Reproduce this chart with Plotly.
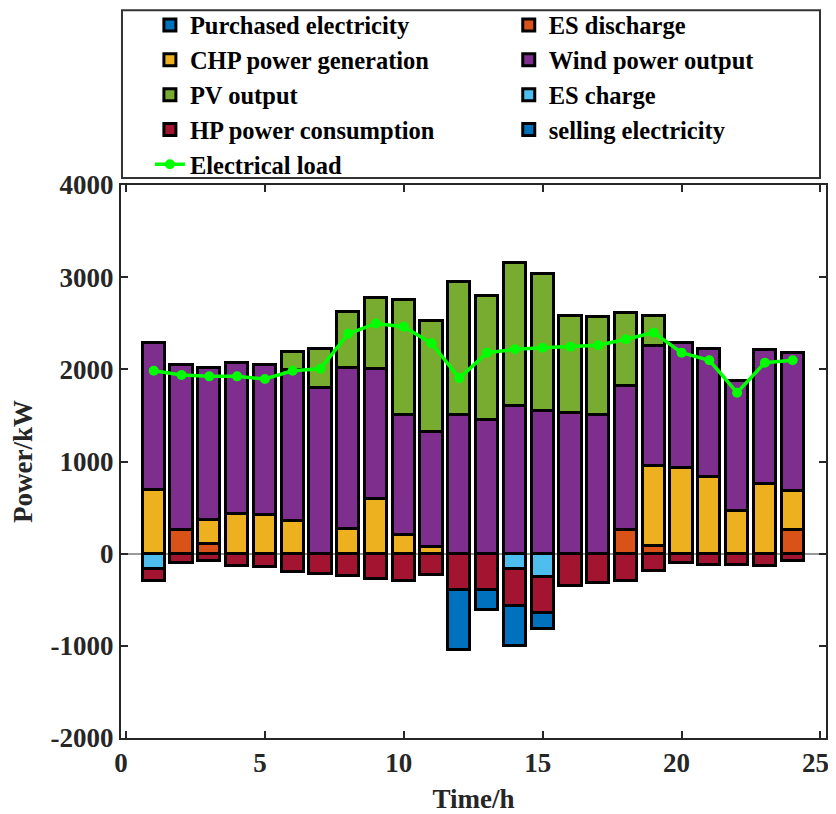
import plotly.graph_objects as go

hours = list(range(1, 25))
purchased = [0] * 24
es_discharge = [0, 253, 108, 0, 0, 0, 0, 0, 0, 0, 0, 0, 0, 0, 0, 0, 0, 254, 87, 0, 0, 0, 0, 254]
chp = [686, 0, 260, 430, 422, 357, 0, 267, 596, 206, 69, 0, 0, 0, 0, 0, 0, 0, 862, 931, 833, 460, 757, 424]
wind = [1596, 1797, 1646, 1635, 1625, 1636, 1794, 1747, 1404, 1299, 1256, 1503, 1446, 1601, 1547, 1522,
        1504, 1565, 1305, 1359, 1392, 1413, 1453, 1503]
pv = [0, 0, 0, 0, 0, 195, 426, 611, 770, 1247, 1199, 1440, 1349, 1548, 1485, 1058, 1065, 797, 326, 0, 0, 0, 0, 0]
es_charge = [-166, 0, 0, 0, 0, 0, 0, 0, 0, 0, 0, 0, 0, -170, -250, 0, 0, 0, 0, 0, 0, 0, 0, 0]
hp = [-126, -101, -79, -130, -144, -202, -220, -238, -270, -300, -235, -397, -395, -401, -395, -350,
      -318, -297, -192, -101, -120, -120, -130, -83]
selling = [0, 0, 0, 0, 0, 0, 0, 0, 0, 0, 0, -643, -219, -426, -171, 0, 0, 0, 0, 0, 0, 0, 0, 0]
load = [1985, 1939, 1924, 1924, 1895, 1985, 2007, 2386, 2498, 2462, 2282, 1905, 2181, 2217, 2235, 2246,
        2261, 2326, 2398, 2181, 2098, 1746, 2072, 2098]

x_ticks = [0, 5, 10, 15, 20, 25]
y_ticks = [-2000, -1000, 0, 1000, 2000, 3000, 4000]
y_ticktext = ["-2000", "-1000", "0", "1000", "2000", "3000", "4000"]

FONT = "Liberation Serif"
# (name, values, colour, legend column)
series = [
    ("Purchased electricity", purchased, "#0072BD", "legend"),
    ("ES discharge", es_discharge, "#D95319", "legend2"),
    ("CHP power generation", chp, "#EDB120", "legend"),
    ("Wind power output", wind, "#7E2F8E", "legend2"),
    ("PV output", pv, "#77AC30", "legend"),
    ("ES charge", es_charge, "#4DBEEE", "legend2"),
    ("HP power consumption", hp, "#A2142F", "legend"),
    ("selling electricity", selling, "#0072BD", "legend2"),
]

fig = go.Figure()
for name, vals, col, lg in series:
    fig.add_trace(go.Bar(x=hours, y=vals, name=name, width=0.8, legend=lg,
                         marker=dict(color=col, line=dict(color="#000000", width=3))))
fig.add_trace(go.Scatter(x=hours, y=load, name="Electrical load", mode="lines+markers", legend="legend",
                         line=dict(color="#00FF00", width=3.5),
                         marker=dict(color="#00FF00", size=10)))

axis_common = dict(showline=True, linecolor="#262626", linewidth=2, mirror="ticks",
                   ticks="inside", ticklen=7, tickwidth=2, tickcolor="#262626",
                   showgrid=False, automargin=False, ticklabeloverflow="allow",
                   tickfont=dict(family=FONT, size=27, color="#262626"))

legend_common = dict(orientation="v", yanchor="top", xanchor="left", y=1.33,
                     bgcolor="rgba(0,0,0,0)", borderwidth=0, traceorder="normal",
                     font=dict(family=FONT, size=24.5, color="#000000", weight="bold"))

fig.update_layout(
    width=828, height=806,
    barmode="relative",
    bargap=0,
    plot_bgcolor="white", paper_bgcolor="white",
    margin=dict(l=113, r=10, t=177, b=76, autoexpand=False),
    font=dict(family=FONT, size=27, color="#000000", weight="bold"),
    xaxis=dict(range=[-0.18, 25.2], tickmode="array", tickvals=x_ticks, ticklabelshift=-5,
               title=dict(text="<b>Time/h</b>", font=dict(family=FONT, size=27, color="#262626"), standoff=12),
               zeroline=False, **axis_common),
    yaxis=dict(range=[-2000, 4000], tickmode="array", tickvals=y_ticks, ticktext=y_ticktext,
               title=dict(text="<b>Power/kW</b>", font=dict(family=FONT, size=27, color="#262626"), standoff=10),
               zeroline=True, zerolinecolor="#999999", zerolinewidth=1.5, **axis_common),
    showlegend=True,
    legend=dict(x=0.041, **legend_common),
    legend2=dict(x=0.550, **legend_common),
    shapes=[dict(type="rect", xref="paper", yref="paper", x0=0.0014, x1=0.9915, y0=1.0126, y1=1.316,
                 line=dict(color="#333333", width=2), fillcolor="rgba(0,0,0,0)", layer="above")],
)

fig.write_html("out.html")
